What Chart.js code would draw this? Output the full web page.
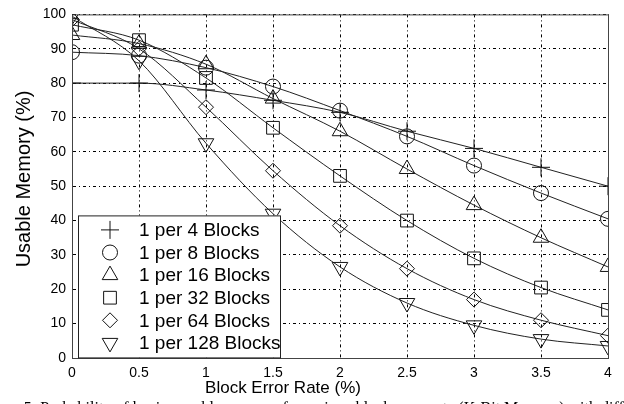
<!DOCTYPE html>
<html>
<head>
<meta charset="utf-8">
<script src="https://cdn.jsdelivr.net/npm/chart.js@4.4.1/dist/chart.umd.min.js"></script>
<style>
  html, body { margin: 0; padding: 0; background: #fff; }
  #wrap { width: 624px; height: 404px; position: relative; }
</style>
</head>
<body>
<div id="wrap"><canvas id="chart"></canvas></div>
<script>
// error rate (%) where each point was taken
const errorRates = [0, 0.5, 1, 1.5, 2, 2.5, 3, 3.5, 4];

// usable memory (%) per spare-block ratio
const per4 = [80, 80, 78, 75, 71.5, 66, 61, 55.5, 50];
const per8 = [89, 88, 84.5, 79, 72, 64.5, 56, 48, 40.5];
const per16 = [94, 91.5, 85.5, 75.5, 66, 55, 44.5, 35, 26.5];
const per32 = [97, 92.5, 81.5, 67, 53, 40, 29, 20.5, 14];
const per64 = [98.5, 90, 73, 54.5, 38.5, 26, 17, 11, 6.5];
const per128 = [99.5, 86.5, 62.5, 42, 26.5, 16, 9.5, 5.5, 3.5];

const seriesNames = ['1 per 4 Blocks', '1 per 8 Blocks', '1 per 16 Blocks',
                     '1 per 32 Blocks', '1 per 64 Blocks', '1 per 128 Blocks'];
const xTicks = [0, 0.5, 1, 1.5, 2, 2.5, 3, 3.5, 4];
const yTicks = [0, 10, 20, 30, 40, 50, 60, 70, 80, 90, 100];

const xTitle = 'Block Error Rate (%)';
const yTitle = 'Usable Memory (%)';
const caption = 'Figure 5: Probability of having usable memory for a given block error rate (K-Bit Memory) with different';

const sans = '"Liberation Sans", Arial, sans-serif';

const markers = [
    { style: 'cross', radius: 9, rotation: 0 },
    { style: 'circle', radius: 7.5, rotation: 0 },
    { style: 'triangle', radius: 9, rotation: 0 },
    { style: 'rect', radius: 9, rotation: 0 },
    { style: 'rectRot', radius: 7.5, rotation: 0 },
    { style: 'triangle', radius: 9, rotation: 180 },
];

const allSeries = [per4, per8, per16, per32, per64, per128];

const datasets = allSeries.map((vals, i) => ({
    label: seriesNames[i],
    data: vals.map((v, j) => ({ x: errorRates[j], y: v })),
    borderColor: '#222',
    borderWidth: 1,
    pointStyle: markers[i].style,
    pointRadius: markers[i].radius,
    pointRotation: markers[i].rotation,
    pointBorderColor: '#111',
    pointBackgroundColor: 'rgba(0,0,0,0)',
    pointBorderWidth: 1,
    cubicInterpolationMode: 'monotone',
    fill: false,
}));

// frame, titles, legend box and caption
const extras = {
    id: 'extras',
    afterDatasetsDraw(chart) {
        const ctx = chart.ctx;
        const a = chart.chartArea;
        ctx.save();
        ctx.strokeStyle = '#444';
        ctx.lineWidth = 1;
        ctx.strokeRect(a.left + 0.5, a.top + 0.5, a.right - a.left, a.bottom - a.top);

        ctx.fillStyle = '#000';
        ctx.textAlign = 'center';
        ctx.textBaseline = 'middle';
        ctx.font = '17px ' + sans;
        ctx.fillText(xTitle, 283, 388);
        ctx.save();
        ctx.translate(24, 179);
        ctx.rotate(-Math.PI / 2);
        ctx.font = '20px ' + sans;
        ctx.fillText(yTitle, 0, 0);
        ctx.restore();

        // legend
        const lx = a.left + 6, ly = a.top + 201, lw = 202, lh = 142;
        ctx.fillStyle = '#fff';
        ctx.fillRect(lx, ly, lw, lh);
        ctx.strokeStyle = '#222';
        ctx.strokeRect(lx + 0.5, ly + 0.5, lw, lh);
        ctx.textAlign = 'left';
        seriesNames.forEach((name, i) => {
            const cy = ly + 14.5 + i * 22.6;
            ctx.strokeStyle = '#111';
            ctx.fillStyle = 'rgba(0,0,0,0)';
            ctx.lineWidth = 1;
            Chart.helpers.drawPoint(ctx, {
                pointStyle: markers[i].style,
                radius: markers[i].radius,
                rotation: markers[i].rotation,
                borderWidth: 1,
            }, lx + 32, cy);
            ctx.fillStyle = '#000';
            ctx.font = '19px ' + sans;
            ctx.fillText(name, lx + 61, cy + 1);
        });

        // caption, cut off by the bottom edge
        ctx.font = '16px "Liberation Serif", "Times New Roman", serif';
        ctx.textBaseline = 'alphabetic';
        ctx.fillText(caption, -22, 413);
        ctx.restore();
    }
};

new Chart(document.getElementById('chart'), {
    type: 'line',
    data: { datasets },
    plugins: [extras],
    options: {
        responsive: true,
        maintainAspectRatio: false,
        animation: false,
        layout: { padding: { left: 0, right: 16, top: 9, bottom: 0 } },
        plugins: { legend: { display: false }, tooltip: { enabled: false } },
        scales: {
            x: {
                type: 'linear',
                min: 0,
                max: 4,
                afterFit(scale) { scale.height = 46; },
                afterBuildTicks(scale) { scale.ticks = xTicks.map(v => ({ value: v })); },
                grid: { color: '#000', lineWidth: 1, drawTicks: false },
                border: { display: true, color: '#000', dash: [3, 3, 1, 3] },
                ticks: {
                    padding: 7,
                    color: '#000',
                    font: { family: sans, size: 14 },
                    callback: v => String(v),
                },
            },
            y: {
                min: 0,
                max: 100,
                afterFit(scale) { scale.width = 72; },
                afterBuildTicks(scale) { scale.ticks = yTicks.map(v => ({ value: v })); },
                grid: { color: '#000', lineWidth: 1, drawTicks: false },
                border: { display: true, color: '#000', dash: [3, 3, 1, 3] },
                ticks: {
                    padding: 6,
                    color: '#000',
                    font: { family: sans, size: 14 },
                },
            },
        },
    },
});
</script>
</body>
</html>
